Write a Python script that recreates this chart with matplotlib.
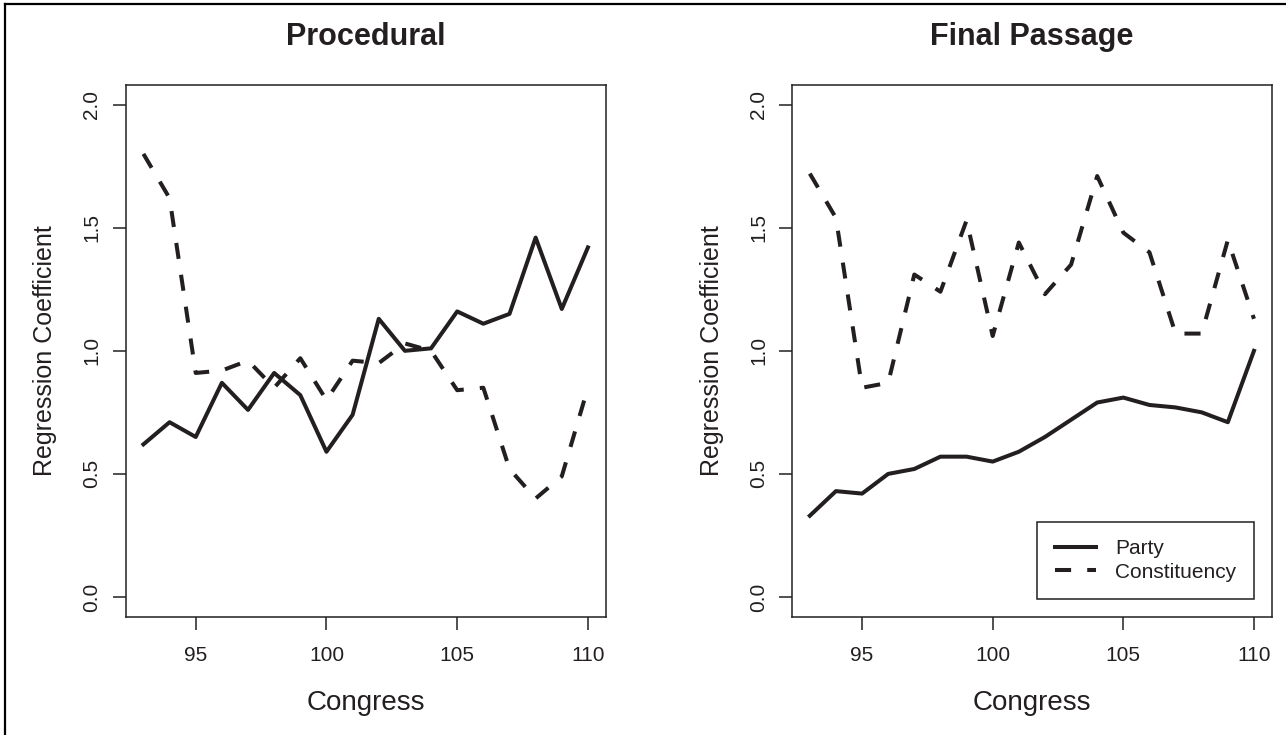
import matplotlib.pyplot as plt
from matplotlib.lines import Line2D

congress = list(range(93, 111))

proc_party = [0.62, 0.71, 0.65, 0.87, 0.76, 0.91, 0.82, 0.59, 0.74, 1.13,
              1.00, 1.01, 1.16, 1.11, 1.15, 1.46, 1.17, 1.42]
proc_const = [1.80, 1.62, 0.91, 0.92, 0.96, 0.85, 0.97, 0.80, 0.96, 0.95,
              1.03, 1.00, 0.84, 0.85, 0.52, 0.40, 0.49, 0.85]

final_party = [0.33, 0.43, 0.42, 0.50, 0.52, 0.57, 0.57, 0.55, 0.59, 0.65,
               0.72, 0.79, 0.81, 0.78, 0.77, 0.75, 0.71, 1.00]
final_const = [1.72, 1.54, 0.85, 0.87, 1.31, 1.24, 1.53, 1.06, 1.44, 1.23,
               1.35, 1.71, 1.48, 1.40, 1.07, 1.07, 1.45, 1.13]

titles = ['Procedural', 'Final Passage']
yticks = [0.0, 0.5, 1.0, 1.5, 2.0]
xticks = [95, 100, 105, 110]

plt.rcParams['font.family'] = ['Liberation Sans', 'DejaVu Sans']
ink = '#231f20'

fig = plt.figure(figsize=(12.86, 7.35), dpi=100)
axes = [fig.add_axes([0.0977, 0.161, 0.3733, 0.7234]),
        fig.add_axes([0.6159, 0.161, 0.3730, 0.7234])]

data = [(proc_party, proc_const), (final_party, final_const)]

for ax, title, (party, const) in zip(axes, titles, data):
    ax.plot(congress, party, color=ink, lw=2.9, label='Party')
    ax.plot(congress, const, color=ink, lw=2.9, ls=(0, (4, 4)),
            label='Constituency')
    ax.set_xlim(92.32, 110.68)
    ax.set_ylim(-0.08, 2.08)
    ax.set_xticks(xticks)
    ax.set_yticks(yticks)
    ax.set_yticklabels(['%.1f' % v for v in yticks], rotation=90, va='center')
    ax.tick_params(direction='out', length=9.4, width=1.1, labelsize=15,
                   colors=ink)
    ax.tick_params(axis='x', pad=12)
    ax.tick_params(axis='y', pad=8)
    for s in ax.spines.values():
        s.set_linewidth(1.1)
        s.set_color(ink)
    ax.set_title(title, fontsize=22, fontweight='bold', color=ink, pad=28.8)
    ax.set_xlabel('Congress', fontsize=20, color=ink, labelpad=18)
    ax.set_ylabel('Regression Coefficient', fontsize=18, color=ink, labelpad=18)

leg = axes[1].legend(loc='lower right', bbox_to_anchor=(0.9631, 0.0327),
                     borderaxespad=0, fontsize=15, frameon=True, fancybox=False,
                     handlelength=2.0, handletextpad=0.9, borderpad=0.85,
                     labelspacing=0.2)
leg.get_frame().set_edgecolor(ink)
leg.get_frame().set_linewidth(1.1)
leg.get_frame().set_alpha(1)
for t in leg.get_texts():
    t.set_color(ink)

# outer frame of the page: only left and top edges show
fig.add_artist(Line2D([0.004, 0.004], [0, 0.994], transform=fig.transFigure,
                      color='black', lw=1.6))
fig.add_artist(Line2D([0.004, 1.0], [0.994, 0.994], transform=fig.transFigure,
                      color='black', lw=1.6))

fig.savefig('out.png', dpi=100)
